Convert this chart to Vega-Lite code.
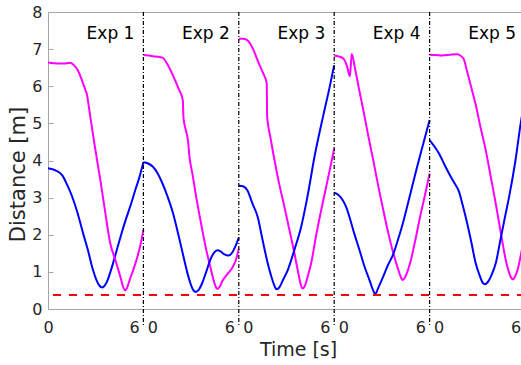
{
  "$schema": "https://vega.github.io/schema/vega-lite/v6.json",
  "width": 477,
  "height": 297,
  "padding": {"left": 48, "top": 12, "right": 0, "bottom": 56},
  "autosize": {"type": "none"},
  "config": {
    "view": {"stroke": "#a6a6a6", "strokeWidth": 1},
    "font": "DejaVu Sans",
    "axis": {"grid": false, "domainColor": "#a6a6a6", "tickColor": "#a6a6a6", "labelFont": "DejaVu Sans", "labelFontSize": 16, "labelColor": "#262626",
      "labelOverlap": false, "labelFlush": false, "labelBound": false, "titleFont": "DejaVu Sans", "titleFontWeight": "normal", "titleColor": "#262626"},
    "axisX": {"ticks": false, "labelPadding": 10, "titleFontSize": 19, "titleX": 250, "titleY": 46.5, "titleBaseline": "alphabetic", "titleAlign": "center"},
    "axisY": {"tickSize": -5, "labelPadding": 11, "titleFontSize": 21, "titleX": -24, "titleY": 162, "titleAngle": 270, "titleBaseline": "alphabetic", "titleAlign": "center"}
  },
  "datasets": {
    "lines": [
      {"exp":1,"series":"s1","time":0,"dist":3.79},{"exp":1,"series":"s1","time":0.5,"dist":3.73},{"exp":1,"series":"s1","time":0.9,"dist":3.6},{"exp":1,"series":"s1","time":1.2,"dist":3.35},{"exp":1,"series":"s1","time":1.5,"dist":3.05},{"exp":1,"series":"s1","time":1.85,"dist":2.6},{"exp":1,"series":"s1","time":2.2,"dist":2.05},{"exp":1,"series":"s1","time":2.5,"dist":1.6},{"exp":1,"series":"s1","time":2.8,"dist":1.1},{"exp":1,"series":"s1","time":3.05,"dist":0.78},{"exp":1,"series":"s1","time":3.25,"dist":0.62},{"exp":1,"series":"s1","time":3.4,"dist":0.58},{"exp":1,"series":"s1","time":3.55,"dist":0.62},{"exp":1,"series":"s1","time":3.75,"dist":0.78},{"exp":1,"series":"s1","time":4.0,"dist":1.1},{"exp":1,"series":"s1","time":4.3,"dist":1.55},{"exp":1,"series":"s1","time":4.6,"dist":2.0},{"exp":1,"series":"s1","time":4.9,"dist":2.42},{"exp":1,"series":"s1","time":5.2,"dist":2.8},{"exp":1,"series":"s1","time":5.5,"dist":3.22},{"exp":1,"series":"s1","time":5.75,"dist":3.55},{"exp":1,"series":"s1","time":6.0,"dist":3.95},
      {"exp":1,"series":"s2","time":0,"dist":6.64},{"exp":1,"series":"s2","time":0.6,"dist":6.61},{"exp":1,"series":"s2","time":1.0,"dist":6.61},{"exp":1,"series":"s2","time":1.4,"dist":6.63},{"exp":1,"series":"s2","time":1.6,"dist":6.58},{"exp":1,"series":"s2","time":1.85,"dist":6.45},{"exp":1,"series":"s2","time":2.1,"dist":6.2},{"exp":1,"series":"s2","time":2.35,"dist":5.9},{"exp":1,"series":"s2","time":2.45,"dist":5.78},{"exp":1,"series":"s2","time":2.55,"dist":5.5},{"exp":1,"series":"s2","time":2.9,"dist":4.5},{"exp":1,"series":"s2","time":3.3,"dist":3.45},{"exp":1,"series":"s2","time":3.6,"dist":2.6},{"exp":1,"series":"s2","time":3.9,"dist":1.8},{"exp":1,"series":"s2","time":4.25,"dist":1.3},{"exp":1,"series":"s2","time":4.55,"dist":0.87},{"exp":1,"series":"s2","time":4.72,"dist":0.6},{"exp":1,"series":"s2","time":4.85,"dist":0.5},{"exp":1,"series":"s2","time":4.97,"dist":0.57},{"exp":1,"series":"s2","time":5.15,"dist":0.8},{"exp":1,"series":"s2","time":5.4,"dist":1.1},{"exp":1,"series":"s2","time":5.65,"dist":1.45},{"exp":1,"series":"s2","time":5.85,"dist":1.8},{"exp":1,"series":"s2","time":6.0,"dist":2.13},
      {"exp":2,"series":"s2","time":6,"dist":6.84},{"exp":2,"series":"s2","time":6.6,"dist":6.81},{"exp":2,"series":"s2","time":7.2,"dist":6.77},{"exp":2,"series":"s2","time":7.5,"dist":6.6},{"exp":2,"series":"s2","time":7.85,"dist":6.3},{"exp":2,"series":"s2","time":8.2,"dist":5.95},{"exp":2,"series":"s2","time":8.48,"dist":5.62},{"exp":2,"series":"s2","time":8.52,"dist":5.15},{"exp":2,"series":"s2","time":8.65,"dist":4.85},{"exp":2,"series":"s2","time":8.8,"dist":4.55},{"exp":2,"series":"s2","time":8.9,"dist":4.1},{"exp":2,"series":"s2","time":9.1,"dist":3.6},{"exp":2,"series":"s2","time":9.32,"dist":3.02},{"exp":2,"series":"s2","time":9.65,"dist":2.25},{"exp":2,"series":"s2","time":9.95,"dist":1.6},{"exp":2,"series":"s2","time":10.2,"dist":1.15},{"exp":2,"series":"s2","time":10.4,"dist":0.8},{"exp":2,"series":"s2","time":10.55,"dist":0.6},{"exp":2,"series":"s2","time":10.65,"dist":0.54},{"exp":2,"series":"s2","time":10.8,"dist":0.6},{"exp":2,"series":"s2","time":11.0,"dist":0.78},{"exp":2,"series":"s2","time":11.2,"dist":0.9},{"exp":2,"series":"s2","time":11.4,"dist":1.0},{"exp":2,"series":"s2","time":11.6,"dist":1.12},{"exp":2,"series":"s2","time":11.8,"dist":1.3},{"exp":2,"series":"s2","time":12.0,"dist":1.62},
      {"exp":2,"series":"s1","time":6,"dist":3.95},{"exp":2,"series":"s1","time":6.3,"dist":3.92},{"exp":2,"series":"s1","time":6.6,"dist":3.83},{"exp":2,"series":"s1","time":6.9,"dist":3.65},{"exp":2,"series":"s1","time":7.2,"dist":3.38},{"exp":2,"series":"s1","time":7.5,"dist":3.05},{"exp":2,"series":"s1","time":7.85,"dist":2.6},{"exp":2,"series":"s1","time":8.2,"dist":2.0},{"exp":2,"series":"s1","time":8.5,"dist":1.45},{"exp":2,"series":"s1","time":8.75,"dist":1.0},{"exp":2,"series":"s1","time":8.95,"dist":0.7},{"exp":2,"series":"s1","time":9.15,"dist":0.5},{"exp":2,"series":"s1","time":9.3,"dist":0.46},{"exp":2,"series":"s1","time":9.45,"dist":0.5},{"exp":2,"series":"s1","time":9.7,"dist":0.7},{"exp":2,"series":"s1","time":9.95,"dist":1.0},{"exp":2,"series":"s1","time":10.2,"dist":1.32},{"exp":2,"series":"s1","time":10.45,"dist":1.52},{"exp":2,"series":"s1","time":10.65,"dist":1.58},{"exp":2,"series":"s1","time":10.85,"dist":1.55},{"exp":2,"series":"s1","time":11.1,"dist":1.47},{"exp":2,"series":"s1","time":11.35,"dist":1.44},{"exp":2,"series":"s1","time":11.6,"dist":1.53},{"exp":2,"series":"s1","time":11.8,"dist":1.7},{"exp":2,"series":"s1","time":12.0,"dist":1.92},
      {"exp":3,"series":"s2","time":12,"dist":7.28},{"exp":3,"series":"s2","time":12.3,"dist":7.28},{"exp":3,"series":"s2","time":12.56,"dist":7.23},{"exp":3,"series":"s2","time":12.9,"dist":7.0},{"exp":3,"series":"s2","time":13.2,"dist":6.68},{"exp":3,"series":"s2","time":13.5,"dist":6.38},{"exp":3,"series":"s2","time":13.76,"dist":6.07},{"exp":3,"series":"s2","time":13.78,"dist":5.2},{"exp":3,"series":"s2","time":14.0,"dist":4.6},{"exp":3,"series":"s2","time":14.25,"dist":4.0},{"exp":3,"series":"s2","time":14.55,"dist":3.35},{"exp":3,"series":"s2","time":14.87,"dist":2.75},{"exp":3,"series":"s2","time":15.2,"dist":2.1},{"exp":3,"series":"s2","time":15.5,"dist":1.5},{"exp":3,"series":"s2","time":15.75,"dist":0.95},{"exp":3,"series":"s2","time":15.92,"dist":0.62},{"exp":3,"series":"s2","time":16.02,"dist":0.55},{"exp":3,"series":"s2","time":16.15,"dist":0.62},{"exp":3,"series":"s2","time":16.35,"dist":0.9},{"exp":3,"series":"s2","time":16.55,"dist":1.23},{"exp":3,"series":"s2","time":16.85,"dist":1.95},{"exp":3,"series":"s2","time":17.18,"dist":2.66},{"exp":3,"series":"s2","time":17.6,"dist":3.5},{"exp":3,"series":"s2","time":18.0,"dist":4.32},
      {"exp":3,"series":"s1","time":12,"dist":3.32},{"exp":3,"series":"s1","time":12.3,"dist":3.3},{"exp":3,"series":"s1","time":12.56,"dist":3.18},{"exp":3,"series":"s1","time":12.85,"dist":2.85},{"exp":3,"series":"s1","time":13.19,"dist":2.48},{"exp":3,"series":"s1","time":13.5,"dist":1.85},{"exp":3,"series":"s1","time":13.82,"dist":1.23},{"exp":3,"series":"s1","time":14.1,"dist":0.8},{"exp":3,"series":"s1","time":14.3,"dist":0.57},{"exp":3,"series":"s1","time":14.4,"dist":0.53},{"exp":3,"series":"s1","time":14.55,"dist":0.58},{"exp":3,"series":"s1","time":14.8,"dist":0.8},{"exp":3,"series":"s1","time":15.08,"dist":1.05},{"exp":3,"series":"s1","time":15.5,"dist":1.6},{"exp":3,"series":"s1","time":15.92,"dist":2.21},{"exp":3,"series":"s1","time":16.35,"dist":3.1},{"exp":3,"series":"s1","time":16.76,"dist":4.1},{"exp":3,"series":"s1","time":17.1,"dist":4.8},{"exp":3,"series":"s1","time":17.39,"dist":5.36},{"exp":3,"series":"s1","time":17.7,"dist":5.95},{"exp":3,"series":"s1","time":18.0,"dist":6.57},
      {"exp":4,"series":"s2","time":18,"dist":6.82},{"exp":4,"series":"s2","time":18.3,"dist":6.8},{"exp":4,"series":"s2","time":18.57,"dist":6.75},{"exp":4,"series":"s2","time":18.8,"dist":6.55},{"exp":4,"series":"s2","time":18.99,"dist":6.27},{"exp":4,"series":"s2","time":19.1,"dist":6.87},{"exp":4,"series":"s2","time":19.3,"dist":6.5},{"exp":4,"series":"s2","time":19.55,"dist":5.95},{"exp":4,"series":"s2","time":19.83,"dist":5.36},{"exp":4,"series":"s2","time":20.15,"dist":4.65},{"exp":4,"series":"s2","time":20.46,"dist":4.0},{"exp":4,"series":"s2","time":20.8,"dist":3.25},{"exp":4,"series":"s2","time":21.09,"dist":2.66},{"exp":4,"series":"s2","time":21.4,"dist":2.05},{"exp":4,"series":"s2","time":21.72,"dist":1.5},{"exp":4,"series":"s2","time":22.0,"dist":1.1},{"exp":4,"series":"s2","time":22.2,"dist":0.85},{"exp":4,"series":"s2","time":22.31,"dist":0.78},{"exp":4,"series":"s2","time":22.45,"dist":0.85},{"exp":4,"series":"s2","time":22.6,"dist":1.0},{"exp":4,"series":"s2","time":22.77,"dist":1.23},{"exp":4,"series":"s2","time":23.1,"dist":1.85},{"exp":4,"series":"s2","time":23.4,"dist":2.48},{"exp":4,"series":"s2","time":23.7,"dist":3.05},{"exp":4,"series":"s2","time":24.0,"dist":3.65},
      {"exp":4,"series":"s1","time":18,"dist":3.13},{"exp":4,"series":"s1","time":18.25,"dist":3.08},{"exp":4,"series":"s1","time":18.54,"dist":2.93},{"exp":4,"series":"s1","time":18.75,"dist":2.75},{"exp":4,"series":"s1","time":18.96,"dist":2.48},{"exp":4,"series":"s1","time":19.25,"dist":2.05},{"exp":4,"series":"s1","time":19.59,"dist":1.59},{"exp":4,"series":"s1","time":19.9,"dist":1.15},{"exp":4,"series":"s1","time":20.22,"dist":0.78},{"exp":4,"series":"s1","time":20.45,"dist":0.5},{"exp":4,"series":"s1","time":20.58,"dist":0.4},{"exp":4,"series":"s1","time":20.75,"dist":0.55},{"exp":4,"series":"s1","time":21.06,"dist":0.85},{"exp":4,"series":"s1","time":21.4,"dist":1.2},{"exp":4,"series":"s1","time":21.69,"dist":1.45},{"exp":4,"series":"s1","time":22.0,"dist":1.85},{"exp":4,"series":"s1","time":22.32,"dist":2.31},{"exp":4,"series":"s1","time":22.7,"dist":2.95},{"exp":4,"series":"s1","time":23.16,"dist":3.74},{"exp":4,"series":"s1","time":23.6,"dist":4.45},{"exp":4,"series":"s1","time":24.0,"dist":5.09},
      {"exp":5,"series":"s2","time":24,"dist":6.85},{"exp":5,"series":"s2","time":24.4,"dist":6.84},{"exp":5,"series":"s2","time":24.8,"dist":6.83},{"exp":5,"series":"s2","time":25.3,"dist":6.85},{"exp":5,"series":"s2","time":25.74,"dist":6.86},{"exp":5,"series":"s2","time":25.95,"dist":6.82},{"exp":5,"series":"s2","time":26.16,"dist":6.72},{"exp":5,"series":"s2","time":26.3,"dist":6.5},{"exp":5,"series":"s2","time":26.6,"dist":6.0},{"exp":5,"series":"s2","time":26.9,"dist":5.5},{"exp":5,"series":"s2","time":27.2,"dist":4.9},{"exp":5,"series":"s2","time":27.53,"dist":4.28},{"exp":5,"series":"s2","time":27.85,"dist":3.55},{"exp":5,"series":"s2","time":28.16,"dist":2.84},{"exp":5,"series":"s2","time":28.5,"dist":2.0},{"exp":5,"series":"s2","time":28.79,"dist":1.32},{"exp":5,"series":"s2","time":29.0,"dist":0.98},{"exp":5,"series":"s2","time":29.15,"dist":0.83},{"exp":5,"series":"s2","time":29.25,"dist":0.8},{"exp":5,"series":"s2","time":29.4,"dist":0.9},{"exp":5,"series":"s2","time":29.53,"dist":1.05},{"exp":5,"series":"s2","time":29.8,"dist":1.59},{"exp":5,"series":"s2","time":30.0,"dist":2.05},
      {"exp":5,"series":"s1","time":24,"dist":4.55},{"exp":5,"series":"s1","time":24.3,"dist":4.38},{"exp":5,"series":"s1","time":24.59,"dist":4.19},{"exp":5,"series":"s1","time":24.9,"dist":3.92},{"exp":5,"series":"s1","time":25.22,"dist":3.65},{"exp":5,"series":"s1","time":25.55,"dist":3.4},{"exp":5,"series":"s1","time":25.85,"dist":3.16},{"exp":5,"series":"s1","time":26.05,"dist":2.85},{"exp":5,"series":"s1","time":26.27,"dist":2.48},{"exp":5,"series":"s1","time":26.6,"dist":1.85},{"exp":5,"series":"s1","time":26.9,"dist":1.23},{"exp":5,"series":"s1","time":27.15,"dist":0.9},{"exp":5,"series":"s1","time":27.35,"dist":0.7},{"exp":5,"series":"s1","time":27.48,"dist":0.67},{"exp":5,"series":"s1","time":27.65,"dist":0.72},{"exp":5,"series":"s1","time":27.9,"dist":0.92},{"exp":5,"series":"s1","time":28.16,"dist":1.23},{"exp":5,"series":"s1","time":28.45,"dist":1.85},{"exp":5,"series":"s1","time":28.75,"dist":2.5},{"exp":5,"series":"s1","time":29.0,"dist":3.02},{"exp":5,"series":"s1","time":29.4,"dist":4.0},{"exp":5,"series":"s1","time":29.73,"dist":5.0},{"exp":5,"series":"s1","time":30.0,"dist":5.65}
    ],
    "dividers": [{"time": 6}, {"time": 12}, {"time": 18}, {"time": 24}],
    "labels": [{"label": "Exp 1", "time": 6}, {"label": "Exp 2", "time": 12}, {"label": "Exp 3", "time": 18}, {"label": "Exp 4", "time": 24}, {"label": "Exp 5", "time": 30}],
    "threshold": [{"dist": 0.38}]
  },
  "layer": [
    {
      "data": {"name": "lines"},
      "mark": {"type": "line", "interpolate": "monotone", "strokeWidth": 2},
      "encoding": {
        "x": {"field": "time", "type": "quantitative", "scale": {"domain": [0, 30], "nice": false, "zero": false},
          "axis": {"title": "Time [s]", "values": [0, 5.41, 6.57, 11.41, 12.57, 17.41, 18.57, 23.41, 24.57, 29.41],
            "labelExpr": "(datum.value % 6) > 3 ? '6' : '0'"}},
        "y": {"field": "dist", "type": "quantitative", "scale": {"domain": [0, 8], "nice": false},
          "axis": {"title": "Distance [m]", "values": [0, 1, 2, 3, 4, 5, 6, 7, 8], "tickCount": 9, "format": "d"}},
        "color": {"field": "series", "type": "nominal", "scale": {"domain": ["s1", "s2"], "range": ["#0000ff", "#ff00ff"]}, "legend": null},
        "detail": {"field": "exp", "type": "nominal"}
      }
    },
    {
      "data": {"name": "threshold"},
      "mark": {"type": "rule", "color": "#ff0000", "strokeWidth": 2, "strokeDash": [8, 8]},
      "encoding": {"y": {"field": "dist", "type": "quantitative"}}
    },
    {
      "data": {"name": "dividers"},
      "mark": {"type": "rule", "color": "black", "strokeWidth": 1.2, "strokeDash": [4, 2, 1, 2]},
      "encoding": {"x": {"field": "time", "type": "quantitative"}, "y": {"datum": 8}, "y2": {"datum": -0.48}}
    },
    {
      "data": {"name": "labels"},
      "mark": {"type": "text", "align": "right", "baseline": "alphabetic", "dx": -9, "fontSize": 17, "font": "DejaVu Sans", "color": "black"},
      "encoding": {"x": {"field": "time", "type": "quantitative"}, "y": {"datum": 7.27}, "text": {"field": "label"}}
    }
  ]
}
